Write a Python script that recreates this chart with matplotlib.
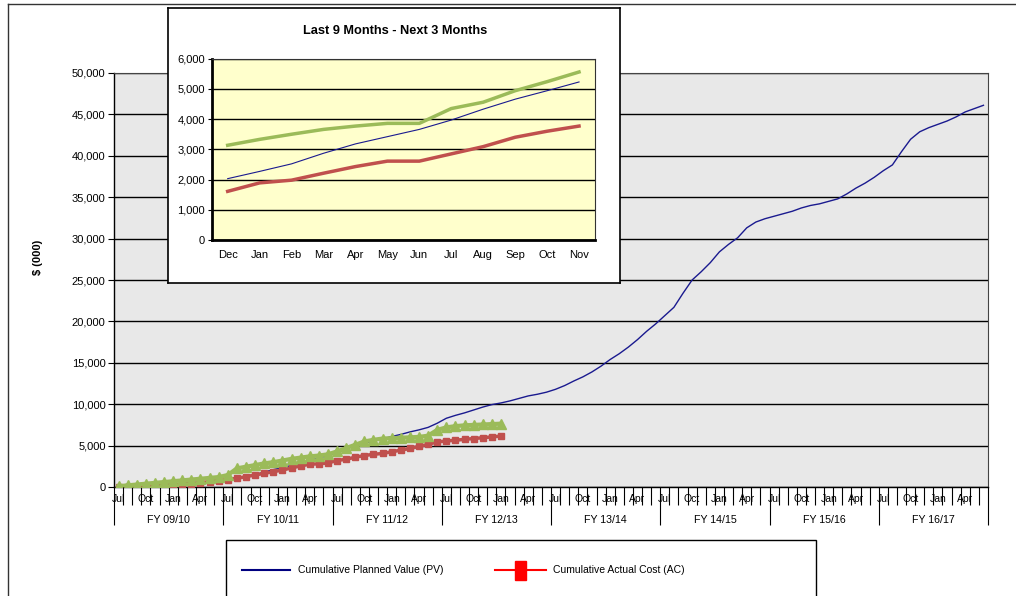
import numpy as np
import matplotlib
matplotlib.use('Agg')
import matplotlib.pyplot as plt
from matplotlib.patches import Rectangle
from matplotlib.lines import Line2D
import matplotlib.transforms as mtrans

plt.rcParams['font.family'] = ['Liberation Sans', 'DejaVu Sans']

# ---------------- data ----------------
month_labels = ["Jul", "Oct", "Jan", "Apr"]
fy_labels = ["FY 09/10", "FY 10/11", "FY 11/12", "FY 12/13",
             "FY 13/14", "FY 14/15", "FY 15/16", "FY 16/17"]

pv = [0, 50, 100, 150, 200, 280, 350, 420, 500, 580, 680, 800,
      920, 1050, 1250, 1500, 1800, 2100, 2350, 2600, 2850, 3200, 3500, 3800,
      4150, 4600, 5000, 5300, 5550, 5800, 6100, 6350, 6650, 6900, 7200, 7700,
      8300, 8650, 8950, 9300, 9650, 9950, 10150, 10400, 10700, 11000, 11200, 11450,
      11800, 12250, 12800, 13300, 13900, 14600, 15400, 16100, 16900, 17800, 18800, 19700,
      20700, 21700, 23400, 25000, 26000, 27100, 28400, 29300, 30100, 31300, 32000, 32400,
      32700, 33000, 33300, 33700, 34000, 34200, 34500, 34800, 35400, 36100, 36700, 37400,
      38200, 38900, 40500, 42000, 42900, 43400, 43800, 44200, 44700, 45300, 45700, 46100]

ev = [100, 200, 300, 400, 500, 600, 700, 800, 900, 1000, 1100, 1200,
      1450, 2250, 2450, 2650, 2850, 3000, 3200, 3400, 3550, 3700, 3800, 3950,
      4300, 4700, 5100, 5500, 5700, 5850, 5900, 5950, 6000, 6050, 6200, 6900,
      7200, 7350, 7450, 7500, 7550, 7600, 7650]

ac = [0, 20, 50, 80, 120, 180, 250, 330, 420, 520, 650, 780,
      900, 1050, 1250, 1450, 1650, 1850, 2050, 2300, 2550, 2750, 2800, 2900,
      3200, 3350, 3600, 3800, 3950, 4050, 4250, 4450, 4650, 4900, 5150, 5450,
      5550, 5650, 5750, 5850, 5950, 6050, 6150]

inset_months = ["Dec", "Jan", "Feb", "Mar", "Apr", "May", "Jun",
                "Jul", "Aug", "Sep", "Oct", "Nov"]
inset_pv = [2030, 2270, 2520, 2870, 3180, 3420, 3660, 3970, 4330, 4660, 4940, 5230]
inset_ev = [3135, 3330, 3500, 3660, 3770, 3860, 3860, 4350, 4560, 4940, 5240, 5560]
inset_ac = [1610, 1890, 1980, 2210, 2430, 2610, 2610, 2850, 3090, 3400, 3600, 3770]

legend_labels = ["Cumulative Planned Value (PV)", "Cumulative Actual Cost (AC)"]

# ---------------- styles ----------------
C_PV = '#1A1A8F'
C_EV = '#9BBB59'
C_AC = '#C0504D'

W, H = 1016, 596
fig = plt.figure(figsize=(W / 100, H / 100), dpi=100)
fig.patch.set_facecolor('white')


def fx(px):
    return px / W


def fy(py):
    return 1 - py / H


# ---------------- main axes ----------------
ax = fig.add_axes([fx(114), fy(487), fx(988) - fx(114), fy(73) - fy(487)])
ax.set_facecolor('#E8E8E8')
ax.plot(np.arange(len(pv)), pv, color=C_PV, lw=1.0, zorder=3)
ax.plot(np.arange(len(ac)), ac, color=C_AC, lw=2.5, marker='s', ms=4.5,
        mec=C_AC, zorder=4)
ax.plot(np.arange(len(ev)), ev, color=C_EV, lw=3, marker='^', ms=7,
        mec=C_EV, zorder=5)
ax.set_xlim(-0.5, len(pv) - 0.5)
ax.set_ylim(0, 50000)
ax.set_yticks(np.arange(0, 50001, 5000))
ax.yaxis.set_major_formatter(lambda v, p: f'{int(v):,}')
ax.grid(axis='y', color='black', lw=1.0)
ax.set_axisbelow(True)
ax.tick_params(axis='y', length=4, width=0.8, pad=2, labelsize=8, colors='black')
ax.set_xticks(np.arange(-0.5, len(pv), 12))
ax.set_xticks(np.arange(-0.5, len(pv), 1), minor=True)
ax.tick_params(axis='x', which='major', length=27, width=0.8, labelbottom=False)
ax.tick_params(axis='x', which='minor', length=13, width=0.8)
for s in ['left', 'bottom']:
    ax.spines[s].set_color('black')
    ax.spines[s].set_linewidth(1.0)
for s in ['top', 'right']:
    ax.spines[s].set_color('#444444')
    ax.spines[s].set_linewidth(0.8)

tr_m = mtrans.offset_copy(ax.get_xaxis_transform(), fig=fig, y=-8.6, units='points')
for i in range(0, len(pv), 3):
    ax.text(i, 0, month_labels[(i // 3) % 4], transform=tr_m, ha='center',
            va='center', fontsize=7.5, clip_on=False)
tr_fy = mtrans.offset_copy(ax.get_xaxis_transform(), fig=fig, y=-23.5, units='points')
for k, lab in enumerate(fy_labels):
    ax.text(12 * k + 5.5, 0, lab, transform=tr_fy, ha='center', va='center',
            fontsize=7.7, clip_on=False)

fig.text(fx(38), fy(257), '$ (000)', rotation=90, fontsize=8, fontweight='bold',
         ha='center', va='center')

# ---------------- inset ----------------
frame = fig.add_axes([fx(168), fy(283), fx(620) - fx(168), fy(8) - fy(283)], zorder=10)
frame.set_facecolor('white')
frame.set_xticks([])
frame.set_yticks([])
for s in frame.spines.values():
    s.set_color('black')
    s.set_linewidth(1.2)

ins = fig.add_axes([fx(211.7), fy(240), fx(595) - fx(211.7), fy(58.7) - fy(240)], zorder=11)
ins.set_facecolor('#FFFFCC')
xi = np.arange(len(inset_months))
ins.plot(xi, inset_pv, color=C_PV, lw=0.8, zorder=3)
ins.plot(xi, inset_ac, color=C_AC, lw=2.5, zorder=4)
ins.plot(xi, inset_ev, color=C_EV, lw=2.5, zorder=5)
ins.set_xlim(-0.5, len(inset_months) - 0.5)
ins.set_ylim(0, 6000)
ins.set_yticks(np.arange(0, 6001, 1000))
ins.yaxis.set_major_formatter(lambda v, p: f'{int(v):,}')
ins.set_xticks(xi, labels=inset_months)
ins.grid(axis='y', color='black', lw=1.0)
ins.set_axisbelow(True)
ins.tick_params(axis='x', length=0, pad=7, labelsize=8)
ins.tick_params(axis='y', length=3, width=0.8, pad=2, labelsize=8)
for s in ['left', 'bottom']:
    ins.spines[s].set_color('black')
    ins.spines[s].set_linewidth(2.0)
for s in ['top', 'right']:
    ins.spines[s].set_color('#333333')
    ins.spines[s].set_linewidth(0.8)

fig.text(fx(395), fy(31), 'Last 9 Months - Next 3 Months', fontsize=9.2,
         fontweight='bold', ha='center', va='center', zorder=12)

# ---------------- legend (drawn manually, bottom is cut off) ----------------
fig.add_artist(Rectangle((fx(226), -0.05), fx(816) - fx(226), fy(540) + 0.05,
                         transform=fig.transFigure, fill=False, ec='black', lw=1.0))
yl = fy(570)
fig.add_artist(Line2D([fx(242), fx(290)], [yl, yl], transform=fig.transFigure,
                      color='#000080', lw=1.5))
fig.text(fx(298), yl, legend_labels[0], fontsize=7.5, ha='left', va='center')
fig.add_artist(Line2D([fx(495), fx(546)], [yl, yl], transform=fig.transFigure,
                      color='#FF0000', lw=1.5))
fig.add_artist(Rectangle((fx(515), yl - 9.5 / H), 11 / W, 19 / H,
                         transform=fig.transFigure, fc='#FF0000', ec='#FF0000'))
fig.text(fx(553), yl, legend_labels[1], fontsize=7.5, ha='left', va='center')

# ---------------- outer border ----------------
fig.add_artist(Line2D([fx(8), 1.0], [fy(4), fy(4)], transform=fig.transFigure,
                      color='#333333', lw=1.0))
fig.add_artist(Line2D([fx(8), fx(8)], [fy(4), 0.0], transform=fig.transFigure,
                      color='#333333', lw=1.0))

fig.savefig('out.png', dpi=100)
